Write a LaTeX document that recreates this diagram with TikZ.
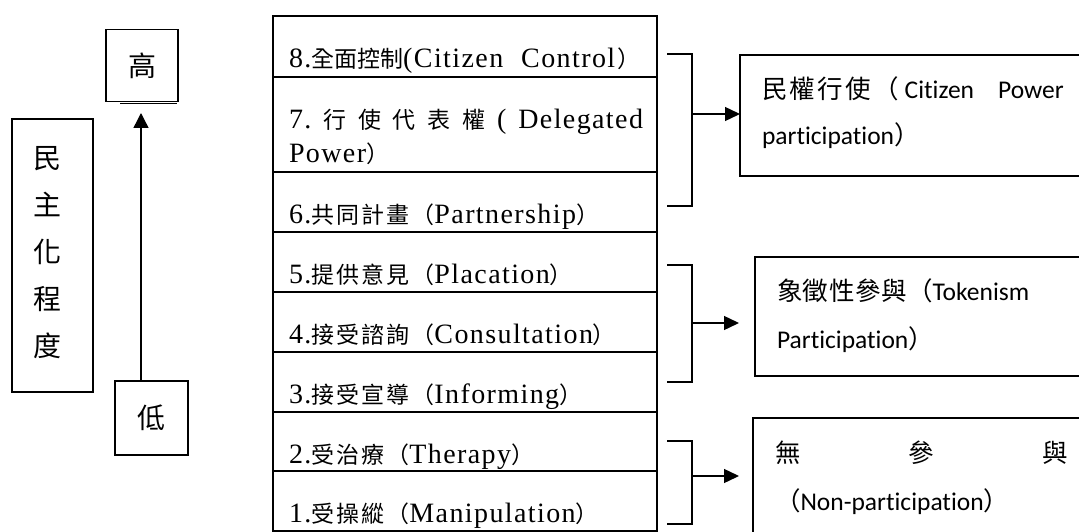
\documentclass[tikz,border=0pt]{standalone}
\usepackage{fontspec}
\usetikzlibrary{arrows.meta,calc}
\setmainfont{Carlito}[Ligatures=CommonOff]
\newfontfamily\cjkbig{Noto Sans CJK TC}
\newfontfamily\cjkcol{Noto Sans CJK TC}[Scale=0.82,LetterSpace=9]
\newfontfamily\cjktight{Noto Sans CJK TC}[Scale=0.82]
\newfontfamily\cjkA{Noto Sans CJK TC}[Scale=1.0,LetterSpace=9]
\newfontfamily\cjkB{Noto Sans CJK TC}[Scale=1.0,LetterSpace=2]
\newfontfamily\serl{Liberation Serif}[LetterSpace=5]
\newcommand\rowtext[3]{{\serl #1.}{\cjkcol #2（}{\serl #3}{\cjkcol ）}}
\begin{document}
\begin{tikzpicture}[x=1pt,y=-1pt,
  box/.style={draw, line width=1.4pt, inner sep=0pt, outer sep=0pt},
  rowbox/.style={draw, line width=1.8pt, inner sep=0pt, outer sep=0pt, minimum width=384pt},
  txt/.style={anchor=base west, inner sep=0pt, outer sep=0pt},
  coltxt/.style={txt, font=\fontsize{28}{32}\selectfont\serl},
  rtxt/.style={txt, font=\fontsize{25.5}{30}\selectfont},
  bigcjk/.style={font=\fontsize{28}{47}\selectfont\cjkbig},
  brk/.style={line width=1.3pt},
  arr/.style={line width=1.4pt, -{Triangle[length=15pt,width=14pt]}},
]
\useasboundingbox (0,0) rectangle (1079,532);
\clip (0,0) rectangle (1079,532);

% left scale
\node[box, minimum width=81pt, minimum height=273pt] (degbox) at (52.5,255.5) {};
\node[bigcjk, align=center, inner sep=0pt] (degtext) at (47,253) {民\\主\\化\\程\\度};
\node[box, minimum width=72pt, minimum height=72pt, bigcjk] (hi) at (142,65.5) {高};
\draw[line width=1pt] ([xshift=14pt,yshift=-1.8pt]hi.south west) -- ([xshift=-1pt,yshift=-1.8pt]hi.south east);
\node[box, minimum width=73pt, minimum height=74pt, bigcjk] (lo) at (151.5,418) {低};
\coordinate (uptip) at (141,113);
\draw[arr, -{Triangle[length=15pt,width=15pt]}] (uptip |- lo.north) -- (uptip);

% ladder
\node[rowbox, minimum height=61pt] (r8) at (465,46.5) {};
\node[rowbox, minimum height=95pt] (r7) at (465,124.5) {};
\node[rowbox, minimum height=60pt] (r6) at (465,202) {};
\node[rowbox, minimum height=60pt] (r5) at (465,262) {};
\node[rowbox, minimum height=60pt] (r4) at (465,322) {};
\node[rowbox, minimum height=60pt] (r3) at (465,382) {};
\node[rowbox, minimum height=59pt] (r2) at (465,441.5) {};
\node[rowbox, minimum height=60pt] (r1) at (465,501) {};

\node[coltxt] (t8) at (289,68) {8.{\cjktight 全面控制}(Citizen\hspace{18pt}Control\hspace{2pt}{\cjktight ）}};
\node[coltxt] (t7a) at (289,129) {\hbox to 354pt{7.\hfil{\cjktight 行}\hfil{\cjktight 使}\hfil{\cjktight 代}\hfil{\cjktight 表}\hfil{\cjktight 權}\hfil(\hfil Delegated}};
\node[coltxt] (t7b) at (289,163) {Power{\cjktight ）}};
\node[coltxt] (t6) at (289,223) {\rowtext{6}{共同計畫}{Partnership}};
\node[coltxt] (t5) at (289,283) {\rowtext{5}{提供意見}{Placation}};
\node[coltxt] (t4) at (289,343) {\rowtext{4}{接受諮詢}{Consultation}};
\node[coltxt] (t3) at (289,403) {\rowtext{3}{接受宣導}{Informing}};
\node[coltxt] (t2) at (289,463) {\rowtext{2}{受治療}{Therapy}};
\node[coltxt] (t1) at (289,522) {\rowtext{1}{受操縱}{Manipulation}};

% category boxes
\node[box, minimum width=360pt, minimum height=121pt] (boxA) at (920,115.5) {};
\node[rtxt] (a1) at (762,99) {{\cjkA 民權行使（}\hspace{6pt}Citizen\hspace{24pt}Power};
\node[rtxt] (a2) at (762,145) {participation{\cjkB ）}};
\node[box, minimum width=345pt, minimum height=119pt] (boxB) at (927.5,316.5) {};
\node[rtxt] (b1t) at (777,300) {{\cjkB 象徵性參與（}Tokenism};
\node[rtxt] (b2t) at (777,348) {Participation{\cjkB ）}};
\node[box, minimum width=347pt, minimum height=142pt] (boxC) at (926.5,489) {};
\node[rtxt] (c1t) at (775,462) {\hbox to 293pt{\cjkB 無\hfil 參\hfil 與}};
\node[rtxt] (c2t) at (775,510) {{\cjkB （}Non-participation{\cjkB ）}};

% brackets and arrows
\draw[brk] (667,54) -- (692,54) -- (692,206) -- (667,206);
\coordinate (k1) at (692,114);
\draw[arr] (k1) -- (k1 -| boxA.west);
\draw[brk] (667,265) -- (692,265) -- (692,382) -- (667,382);
\coordinate (k2) at (692,323);
\draw[arr, shorten >=16pt] (k2) -- (k2 -| boxB.west);
\draw[brk] (667,441) -- (692,441) -- (692,524) -- (667,524);
\coordinate (k3) at (692,476);
\draw[arr, shorten >=14pt] (k3) -- (k3 -| boxC.west);
\end{tikzpicture}
\end{document}
